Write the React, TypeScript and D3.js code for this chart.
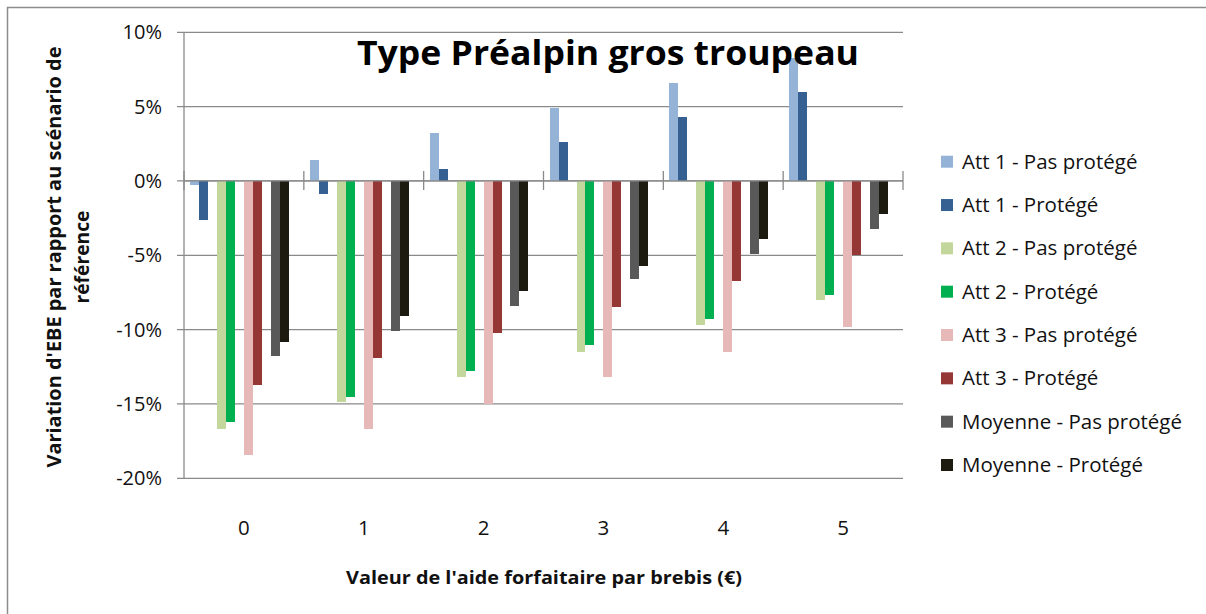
import * as d3 from 'd3';

// valeurs (en %)
const categories = ['0', '1', '2', '3', '4', '5'];
const seriesNames = [
  'Att 1 - Pas protégé',
  'Att 1 - Protégé',
  'Att 2 - Pas protégé',
  'Att 2 - Protégé',
  'Att 3 - Pas protégé',
  'Att 3 - Protégé',
  'Moyenne - Pas protégé',
  'Moyenne - Protégé',
];
const seriesColors = ['#95b3d7', '#376092', '#c3d69b', '#00b050', '#e6b9b8', '#953735', '#595959', '#1d1b10'];

const att1PasProtege = [-0.3, 1.4, 3.2, 4.9, 6.6, 8.3];
const att1Protege = [-2.6, -0.9, 0.8, 2.6, 4.3, 6.0];
const att2PasProtege = [-16.7, -14.9, -13.2, -11.5, -9.7, -8.0];
const att2Protege = [-16.2, -14.5, -12.8, -11.0, -9.3, -7.7];
const att3PasProtege = [-18.4, -16.7, -15.0, -13.2, -11.5, -9.8];
const att3Protege = [-13.7, -11.9, -10.2, -8.5, -6.7, -5.0];
const moyPasProtege = [-11.8, -10.1, -8.4, -6.6, -4.9, -3.2];
const moyProtege = [-10.8, -9.1, -7.4, -5.7, -3.9, -2.2];

const seriesValues = [
  att1PasProtege, att1Protege,
  att2PasProtege, att2Protege,
  att3PasProtege, att3Protege,
  moyPasProtege, moyProtege,
];

const yTicks = [10, 5, 0, -5, -10, -15, -20];

const width = 1206;
const height = 614;
const plot = { left: 184, right: 903, top: 32.3, bottom: 478.3 };
const font = "'Open Sans', sans-serif";

export default function App() {
  const x = d3.scaleBand<string>().domain(categories).range([plot.left, plot.right]).padding(0);
  // 12 emplacements : une paire de barres puis un vide
  const slots = d3.range(12);
  const xInner = d3.scaleBand<number>().domain(slots).range([0, x.bandwidth()]).paddingInner(0).paddingOuter(0.68);
  const y = d3.scaleLinear().domain([-20, 10]).range([plot.bottom, plot.top]);
  const y0 = y(0);

  const bars = seriesValues.flatMap((vals, s) =>
    vals.map((v, c) => ({ s, c, v }))
  );

  const bounds = d3.range(categories.length + 1).map((i) => plot.left + i * x.step());

  return (
    <svg
      width={width}
      height={height}
      style={{ position: 'absolute', left: 0, top: 0, background: '#fff' }}
      fontFamily={font}
    >
      <rect x={7.5} y={7.5} width={width + 10} height={height + 10} fill="#fff" stroke="#8c8c8c" strokeWidth={1.5} />

      {/* grille */}
      {yTicks.map((t) => (
        <line key={t} x1={plot.left - 7} x2={plot.right} y1={y(t)} y2={y(t)} stroke="#8a8a8a" strokeWidth={1.3} />
      ))}
      <line x1={plot.left} x2={plot.left} y1={plot.top} y2={plot.bottom} stroke="#8a8a8a" strokeWidth={1.3} />

      {/* barres */}
      <g shapeRendering="crispEdges">
        {bars.map((d) => {
          const slot = d.s + Math.floor(d.s / 2);
          const bx = (x(categories[d.c]) ?? 0) + (xInner(slot) ?? 0);
          const yv = y(d.v);
          return (
            <rect
              key={`${d.s}-${d.c}`}
              x={bx}
              y={Math.min(yv, y0)}
              width={xInner.bandwidth()}
              height={Math.abs(yv - y0)}
              fill={seriesColors[d.s]}
            />
          );
        })}
      </g>

      {/* axe des x */}
      <line x1={plot.left} x2={plot.right} y1={y0} y2={y0} stroke="#8a8a8a" strokeWidth={1.3} />
      {bounds.map((bx, i) => (
        <line key={i} x1={bx} x2={bx} y1={y0 - 10} y2={y0 + 9} stroke="#8a8a8a" strokeWidth={1.3} />
      ))}
      {categories.map((c) => (
        <text key={c} x={(x(c) ?? 0) + x.bandwidth() / 2} y={535} textAnchor="middle" fontSize={20.5} fill="#111">
          {c}
        </text>
      ))}

      {/* axe des y */}
      {yTicks.map((t) => (
        <text key={t} x={162} y={y(t) + 7} textAnchor="end" fontSize={20} fill="#111">
          {`${t}%`}
        </text>
      ))}

      <g transform="translate(0,257) rotate(-90)">
        <text x={0} y={61} textAnchor="middle" fontSize={19} fontWeight="bold" fill="#111" textLength={421} lengthAdjust="spacingAndGlyphs">
          Variation d'EBE  par rapport au scénario de
        </text>
        <text x={0} y={89} textAnchor="middle" fontSize={19} fontWeight="bold" fill="#111" textLength={93} lengthAdjust="spacingAndGlyphs">
          référence
        </text>
      </g>

      <text x={544} y={584} textAnchor="middle" fontSize={18} fontWeight="bold" fill="#111" textLength={396} lengthAdjust="spacingAndGlyphs">
        Valeur de l'aide forfaitaire par brebis (€)
      </text>

      {/* titre */}
      <text x={357} y={65} fontSize={34} fontWeight="bold" fill="#000" textLength={502} lengthAdjust="spacingAndGlyphs">
        Type Préalpin gros troupeau
      </text>

      {/* légende */}
      {seriesNames.map((name, i) => {
        const cy = 161.7 + i * 43.33;
        return (
          <g key={name}>
            <rect x={941} y={cy - 6} width={12} height={12} fill={seriesColors[i]} />
            <text x={962} y={cy + 7} fontSize={20.5} fill="#111">
              {name}
            </text>
          </g>
        );
      })}
    </svg>
  );
}
